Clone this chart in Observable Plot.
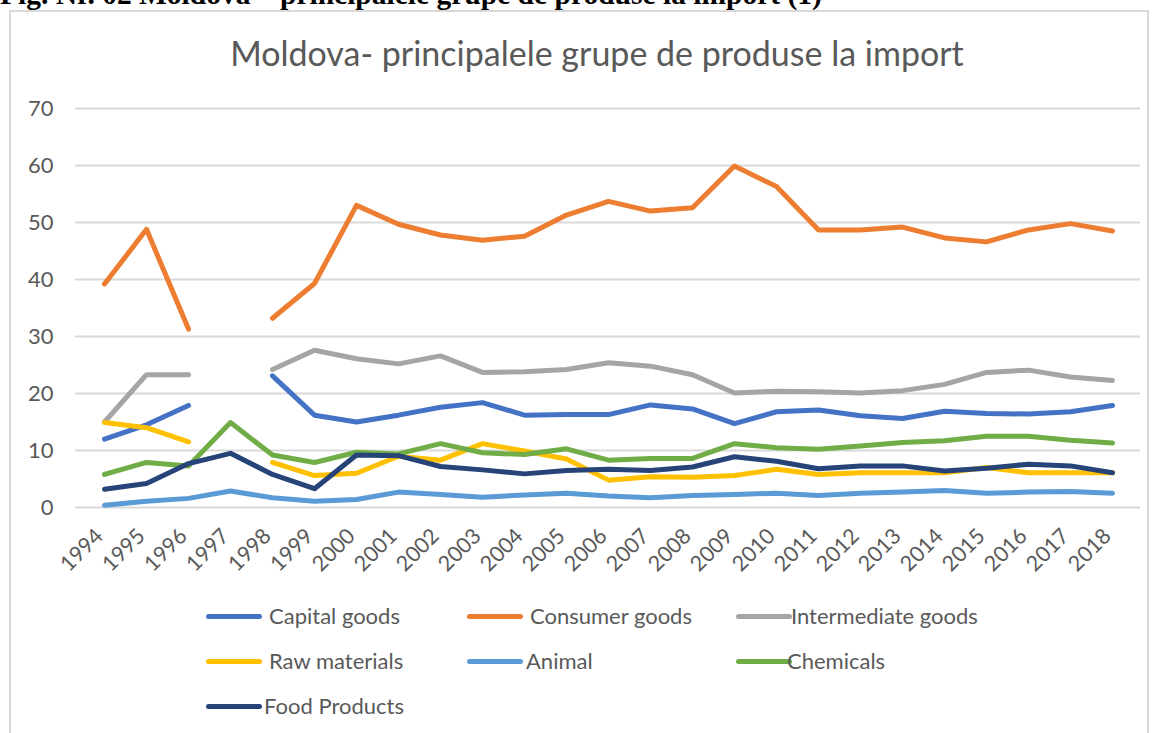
<!DOCTYPE html>
<html>
<head>
<meta charset="utf-8">
<script src="https://cdn.jsdelivr.net/npm/d3@7"></script>
<script src="https://cdn.jsdelivr.net/npm/@observablehq/plot@0.6"></script>
<style>
  html, body { margin: 0; padding: 0; background: #fff; width: 1156px; height: 733px; overflow: hidden; }
  #page { position: relative; width: 1156px; height: 733px; }
  #fig { position: absolute; left: 0; top: -21px; font-family: "Liberation Serif", serif; font-weight: bold; font-size: 29.5px; line-height: 30px; color: #000; white-space: nowrap; }
  #box { position: absolute; left: 9px; top: 10px; width: 1140px; height: 740px; border: 2px solid #d9d9d9; box-sizing: border-box; }
  #title { position: absolute; left: 0; width: 1194px; top: 32px; text-align: center; font-family: Lato, sans-serif; font-size: 34px; line-height: 42px; color: #595959; white-space: nowrap; }
  #chart { position: absolute; left: 0; top: 90px; }
  .leg { position: absolute; font-family: Lato, sans-serif; font-size: 22px; line-height: 26px; color: #595959; white-space: nowrap; }
  .sw { position: absolute; height: 5px; border-radius: 3px; }
</style>
</head>
<body>
<div id="page">
  <div id="fig">Fig. Nr. 02 Moldova – principalele grupe de produse la import (1)</div>
  <div id="box"></div>
  <div id="title">Moldova- principalele grupe de produse la import</div>
  <div id="chart"></div>
  <div id="legend"></div>
</div>
<script>
const years = [1994,1995,1996,1997,1998,1999,2000,2001,2002,2003,2004,2005,2006,2007,2008,2009,2010,2011,2012,2013,2014,2015,2016,2017,2018];
const capitalGoods      = [12.0,14.5,17.9,null,23.1,16.2,15.0,16.2,17.6,18.4,16.2,16.3,16.3,18.0,17.3,14.7,16.8,17.1,16.1,15.6,16.9,16.5,16.4,16.8,17.9];
const consumerGoods     = [39.2,48.8,31.3,null,33.2,39.3,53.0,49.7,47.8,46.9,47.6,51.3,53.7,52.0,52.6,59.9,56.3,48.7,48.7,49.2,47.3,46.6,48.7,49.8,48.5];
const intermediateGoods = [15.0,23.3,23.3,null,24.2,27.6,26.1,25.2,26.6,23.7,23.8,24.2,25.4,24.8,23.3,20.1,20.4,20.3,20.1,20.5,21.6,23.7,24.1,22.9,22.3];
const rawMaterials      = [14.9,14.0,11.5,null,7.9,5.6,6.0,9.0,8.3,11.2,9.9,8.5,4.8,5.4,5.3,5.6,6.7,5.8,6.1,6.1,6.1,7.0,6.1,6.1,6.1];
const animal            = [0.4,1.1,1.6,2.9,1.7,1.1,1.4,2.7,2.3,1.8,2.2,2.5,2.0,1.7,2.1,2.3,2.5,2.1,2.5,2.7,3.0,2.5,2.7,2.8,2.5];
const chemicals         = [5.8,7.9,7.3,14.9,9.2,7.9,9.7,9.4,11.2,9.6,9.3,10.3,8.3,8.6,8.6,11.2,10.5,10.2,10.8,11.4,11.7,12.5,12.5,11.8,11.3];
const foodProducts      = [3.2,4.2,7.7,9.5,5.8,3.3,9.2,9.1,7.2,6.6,5.9,6.5,6.7,6.5,7.1,8.9,8.1,6.8,7.3,7.3,6.4,6.9,7.6,7.3,6.1];
const seriesNames  = ["Capital goods","Consumer goods","Intermediate goods","Raw materials","Animal","Chemicals","Food Products"];
const seriesValues = [capitalGoods, consumerGoods, intermediateGoods, rawMaterials, animal, chemicals, foodProducts];
const seriesColors = ["#4472C4","#ED7D31","#A5A5A5","#FFC000","#5B9BD5","#70AD47","#264478"];
const yTicks = [0,10,20,30,40,50,60,70];

const data = [];
seriesNames.forEach((name, i) => {
  years.forEach((yr, j) => {
    const v = seriesValues[i][j];
    data.push({series: name, year: String(yr), value: v == null ? NaN : v});
  });
});

const chart = Plot.plot({
  width: 1156,
  height: 500,
  marginTop: 18,
  marginBottom: 83,
  marginLeft: 75,
  marginRight: 16,
  style: {fontFamily: "Lato, sans-serif", fontSize: "21px", color: "#595959", background: "transparent", overflow: "visible"},
  x: {type: "point", domain: years.map(String), padding: 0.5, align: 0.5, label: null},
  y: {domain: [0, 70], ticks: yTicks, label: null},
  color: {domain: seriesNames, range: seriesColors},
  marks: [
    Plot.ruleY(yTicks, {stroke: "#d9d9d9", strokeWidth: 2}),
    Plot.axisY({ticks: yTicks, tickSize: 0, tickPadding: 22, label: null, fontSize: 22, fill: "#595959"}),
    Plot.axisX({tickSize: 0, tickPadding: 25, dx: -5, tickRotate: -45, label: null, fontSize: 21.5, fill: "#595959"}),
    ...seriesNames.map((name, i) => Plot.line(data.filter(d => d.series === name), {
      x: "year", y: "value", stroke: seriesColors[i], strokeWidth: 5,
      strokeLinecap: "round", strokeLinejoin: "round"
    }))
  ]
});
document.getElementById("chart").appendChild(chart);

// legend
const legendPos = [
  [206, 616, 269], [467, 616, 530], [736, 616, 791],
  [206, 661, 269], [467, 661, 526], [736, 661, 787],
  [206, 706, 264]
];
const leg = document.getElementById("legend");
seriesNames.forEach((name, i) => {
  const [sx, y, tx] = legendPos[i];
  const sw = document.createElement("div");
  sw.className = "sw";
  sw.style.left = sx + "px"; sw.style.top = (y - 2.5) + "px"; sw.style.width = "56px";
  sw.style.background = seriesColors[i];
  leg.appendChild(sw);
  const t = document.createElement("div");
  t.className = "leg";
  t.textContent = name;
  t.style.left = tx + "px"; t.style.top = (y - 13) + "px";
  leg.appendChild(t);
});
</script>
</body>
</html>
